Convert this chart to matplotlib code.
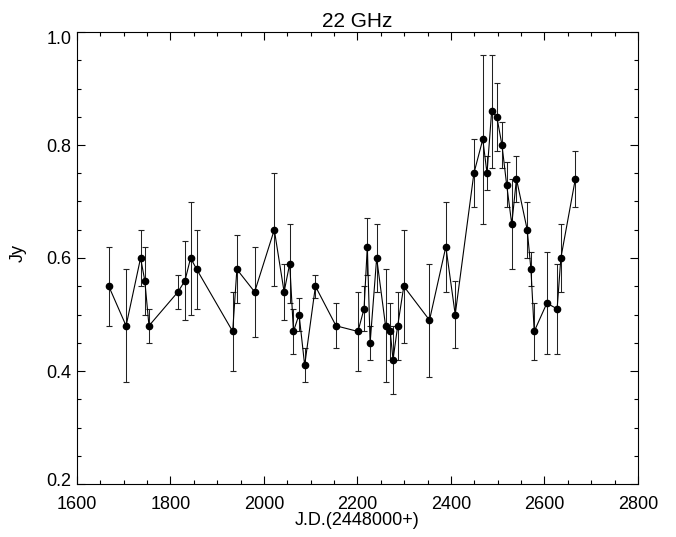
import matplotlib
matplotlib.use("Agg")
import matplotlib.pyplot as plt
from matplotlib.ticker import MultipleLocator, FixedLocator
from matplotlib.transforms import ScaledTranslation

plt.rcParams['font.family'] = ['Liberation Sans', 'DejaVu Sans']

jd = [1668, 1705, 1736, 1745, 1754, 1816, 1831, 1843, 1856, 1933, 1942, 1980,
      2022, 2043, 2055, 2063, 2075, 2087, 2110, 2154, 2201, 2214, 2221, 2227,
      2241, 2260, 2270, 2276, 2286, 2299, 2354, 2389, 2409, 2449, 2468, 2477,
      2487, 2498, 2509, 2519, 2530, 2540, 2563, 2571, 2578, 2605, 2627, 2635,
      2666]
flux = [0.55, 0.48, 0.60, 0.56, 0.48, 0.54, 0.56, 0.60, 0.58, 0.47, 0.58, 0.54,
        0.65, 0.54, 0.59, 0.47, 0.50, 0.41, 0.55, 0.48, 0.47, 0.51, 0.62, 0.45,
        0.60, 0.48, 0.47, 0.42, 0.48, 0.55, 0.49, 0.62, 0.50, 0.75, 0.81, 0.75,
        0.86, 0.85, 0.80, 0.73, 0.66, 0.74, 0.65, 0.58, 0.47, 0.52, 0.51, 0.60,
        0.74]
upper = [0.62, 0.58, 0.65, 0.62, 0.51, 0.57, 0.63, 0.70, 0.65, 0.54, 0.64, 0.62,
         0.75, 0.59, 0.66, 0.51, 0.53, 0.44, 0.57, 0.52, 0.54, 0.55, 0.67, 0.48,
         0.66, 0.58, 0.52, 0.48, 0.54, 0.65, 0.59, 0.70, 0.56, 0.81, 0.96, 0.78,
         0.96, 0.91, 0.84, 0.77, 0.74, 0.78, 0.70, 0.61, 0.52, 0.61, 0.59, 0.66,
         0.79]
lower = [0.48, 0.38, 0.55, 0.50, 0.45, 0.51, 0.49, 0.50, 0.51, 0.40, 0.52, 0.46,
         0.55, 0.49, 0.52, 0.43, 0.47, 0.38, 0.53, 0.44, 0.40, 0.47, 0.57, 0.42,
         0.54, 0.38, 0.42, 0.36, 0.42, 0.45, 0.39, 0.54, 0.44, 0.69, 0.66, 0.72,
         0.76, 0.79, 0.76, 0.69, 0.58, 0.70, 0.60, 0.55, 0.42, 0.43, 0.43, 0.54,
         0.69]

x_ticks = [1600, 1800, 2000, 2200, 2400, 2600, 2800]
y_ticks = [0.2, 0.4, 0.6, 0.8, 1.0]

yerr = [[f - l for f, l in zip(flux, lower)], [u - f for f, u in zip(flux, upper)]]

fig = plt.figure(figsize=(6.76, 5.37), dpi=100)
ax = fig.add_axes([77/676, 1 - 484/537, (638 - 77)/676, (484 - 32)/537])

ax.errorbar(jd, flux, yerr=yerr, fmt='none', ecolor='#222222', elinewidth=0.75,
            capsize=2.2, capthick=0.8)
ax.plot(jd, flux, '-', color='black', linewidth=0.8)
ax.plot(jd, flux, 'o', color='black', markersize=4.5)

ax.set_xlim(1600, 2800)
ax.set_ylim(0.2, 1.0)
ax.xaxis.set_major_locator(FixedLocator(x_ticks))
ax.xaxis.set_minor_locator(MultipleLocator(50))
ax.yaxis.set_major_locator(FixedLocator(y_ticks))
ax.yaxis.set_minor_locator(MultipleLocator(0.05))
ax.yaxis.set_major_formatter(plt.FormatStrFormatter('%.1f'))
ax.tick_params(which='both', direction='in', top=True, right=True, labelsize=13, width=0.8)
ax.tick_params(which='major', length=6)
ax.tick_params(which='minor', length=3)
ax.tick_params(axis='x', which='major', pad=8.5)
ax.tick_params(axis='y', which='major', pad=4)
for s in ax.spines.values():
    s.set_linewidth(0.8)

# shift end y tick labels inward like the reference
yt = ax.yaxis.get_major_ticks(len(y_ticks))
yt[0].label1.set_transform(yt[0].label1.get_transform() + ScaledTranslation(0, 5/100, fig.dpi_scale_trans))
yt[-1].label1.set_transform(yt[-1].label1.get_transform() + ScaledTranslation(0, -5/100, fig.dpi_scale_trans))

ax.set_title('22 GHz', fontsize=15, pad=3.6)
ax.set_xlabel('J.D.(2448000+)', fontsize=13)
ax.set_ylabel('Jy', fontsize=13)
ax.xaxis.set_label_coords(0.5, -0.062)
ax.yaxis.set_label_coords(-0.089, 0.511)

fig.savefig('out.png', dpi=100)
